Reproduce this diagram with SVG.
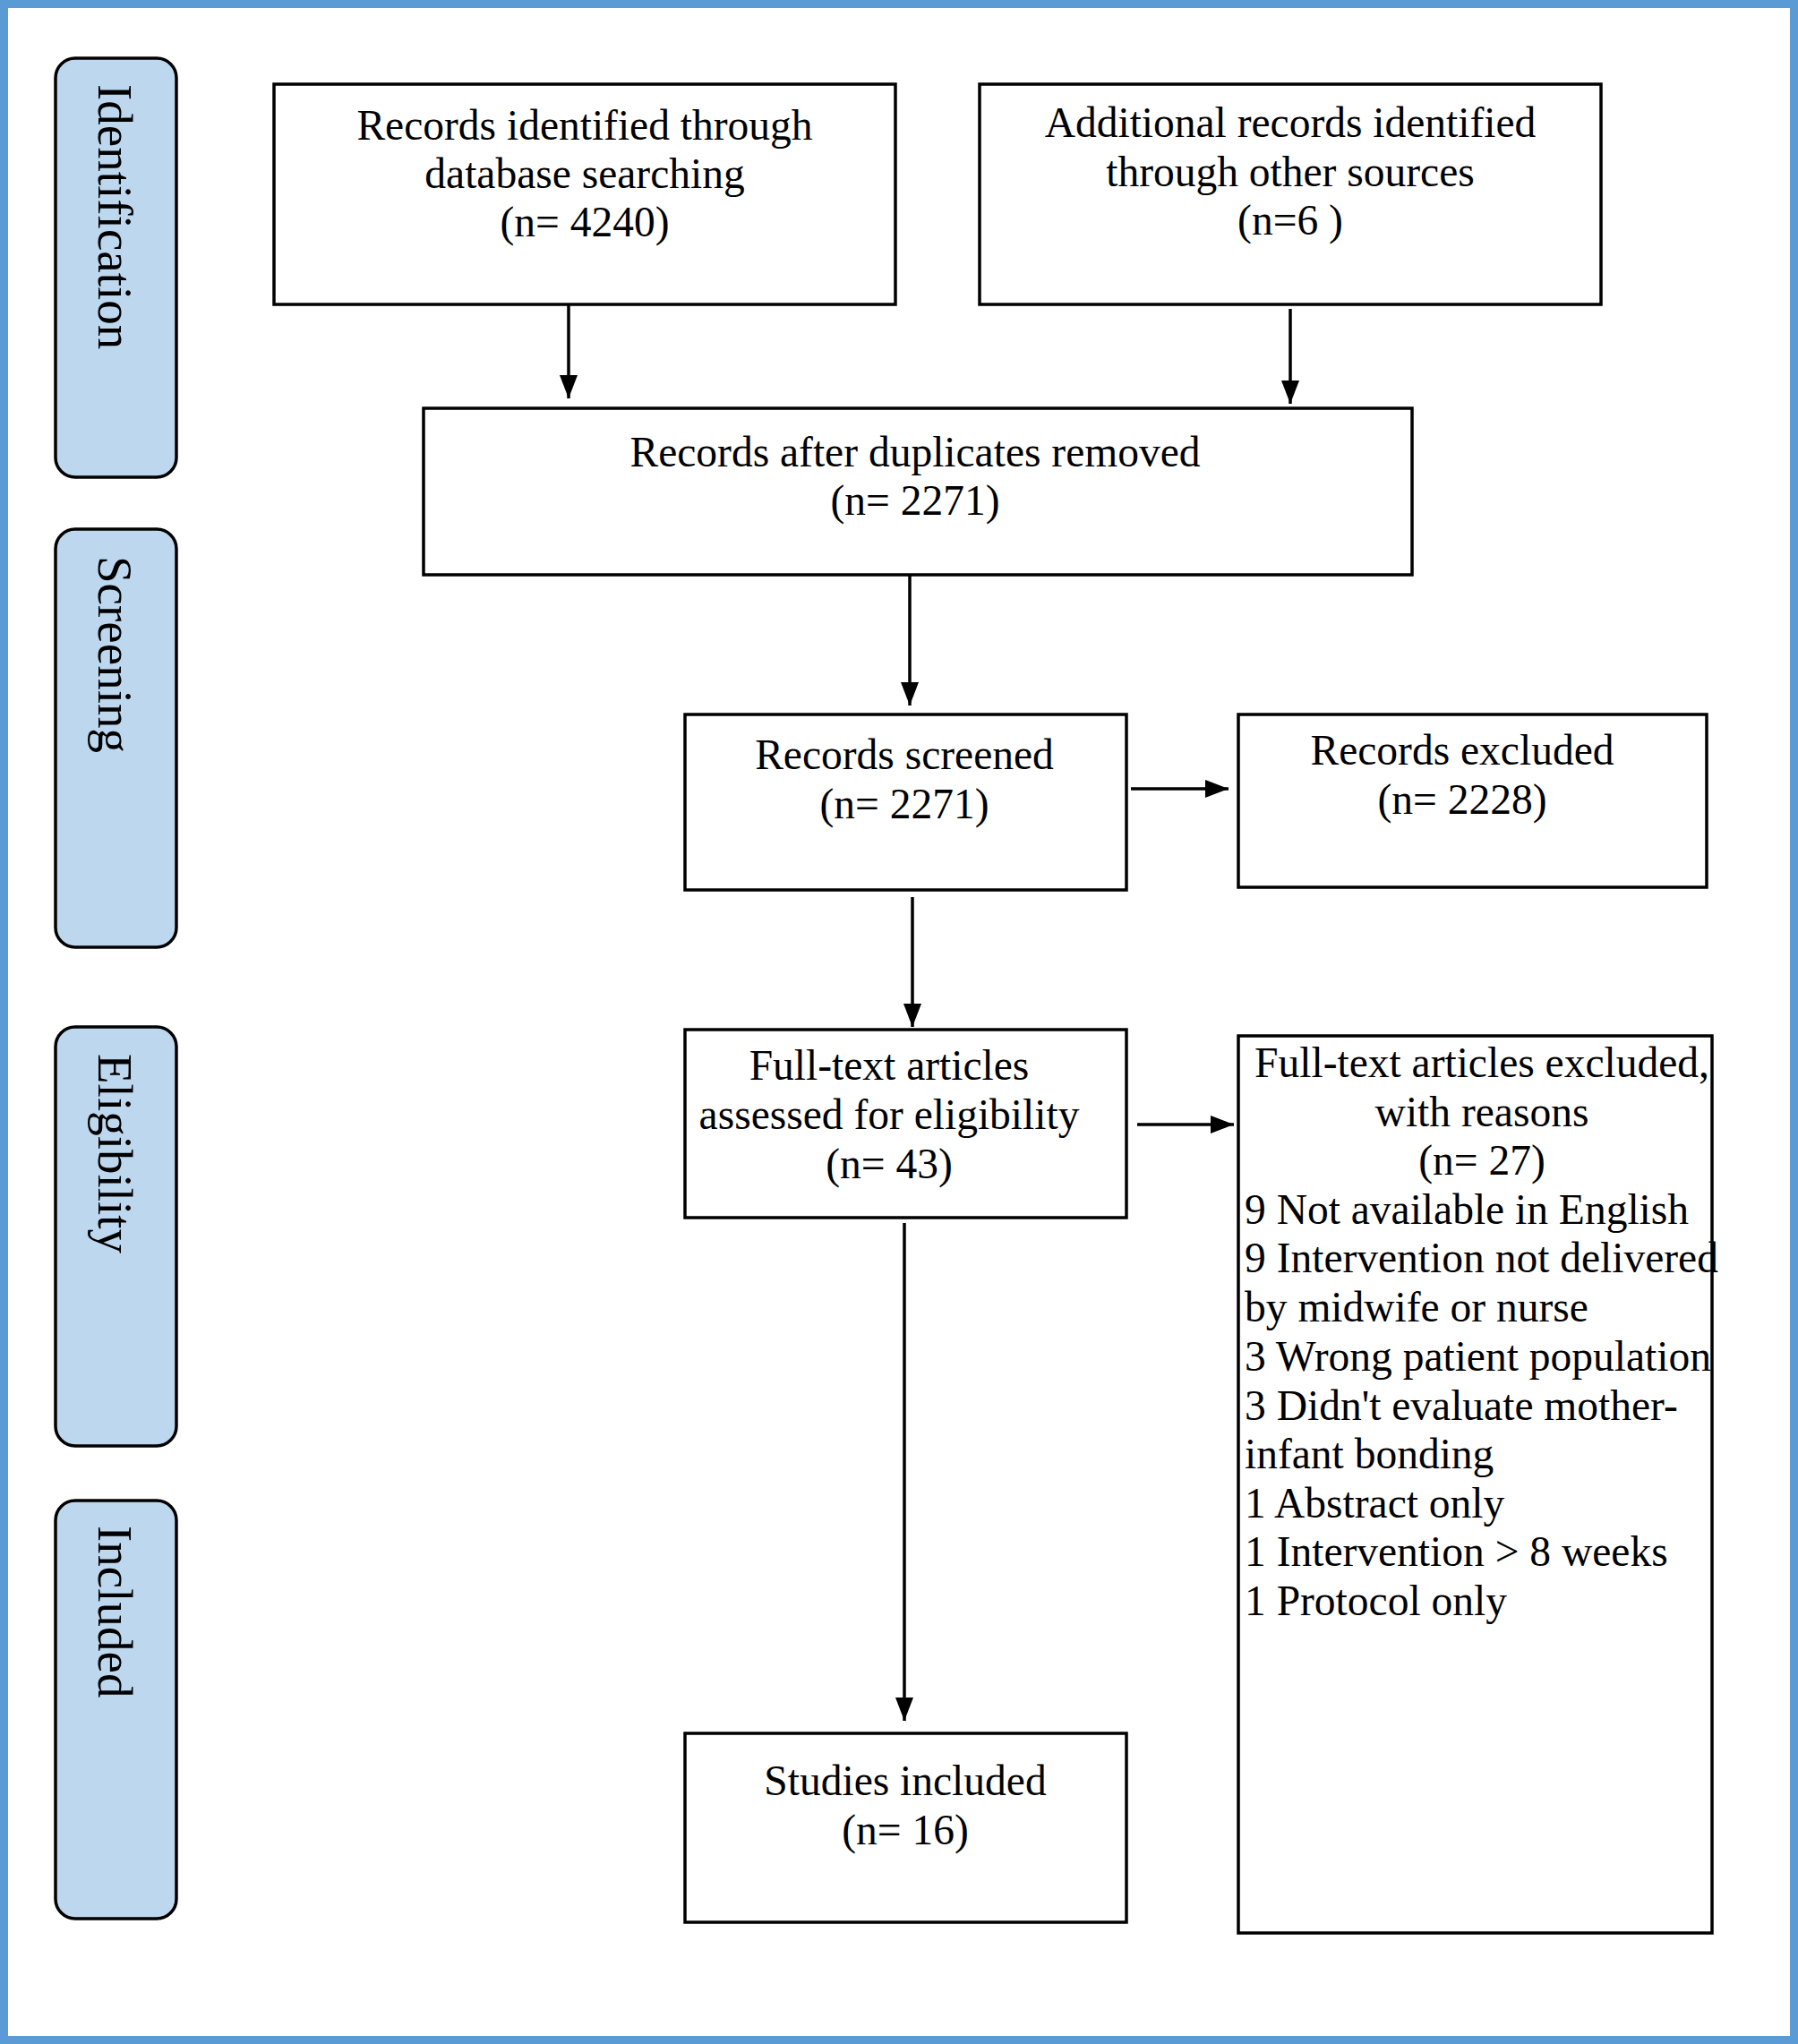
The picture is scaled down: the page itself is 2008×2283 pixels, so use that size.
<svg xmlns="http://www.w3.org/2000/svg" width="2008" height="2283" viewBox="0 0 2008 2283">
  <defs>
    <style>
      .box { fill: #ffffff; stroke: #000000; stroke-width: 3.5; }
      .side { fill: #bdd7ee; stroke: #000000; stroke-width: 3.5; }
      .t { font-family: "Liberation Serif", "Times New Roman", serif; font-size: 47.5px; fill: #000000; }
      .c { text-anchor: middle; }
      .s { font-family: "Liberation Serif", "Times New Roman", serif; font-size: 55px; fill: #000000; }
      .conn { stroke: #000000; stroke-width: 3.5; fill: none; marker-end: url(#arrow); }
    </style>
    <marker id="arrow" markerUnits="userSpaceOnUse" markerWidth="26" markerHeight="20" refX="26" refY="10" orient="auto">
      <path d="M0,0 L26,10 L0,20 Z" fill="#000000"/>
    </marker>
  </defs>

  <rect x="0" y="0" width="2008" height="2283" fill="#ffffff"/>
  <rect id="frame" x="4.5" y="4.5" width="1999" height="2274" fill="none" stroke="#5b9bd5" stroke-width="9"/>

  <g id="stage-identification">
    <rect class="side" x="62" y="65" width="135" height="468" rx="22" ry="22"/>
    <text class="s" transform="translate(110,94) rotate(90)">Identification</text>
  </g>
  <g id="stage-screening">
    <rect class="side" x="62" y="591" width="135" height="467" rx="22" ry="22"/>
    <text class="s" transform="translate(110,621) rotate(90)">Screening</text>
  </g>
  <g id="stage-eligibility">
    <rect class="side" x="62" y="1147" width="135" height="468" rx="22" ry="22"/>
    <text class="s" transform="translate(110,1177) rotate(90)">Eligibility</text>
  </g>
  <g id="stage-included">
    <rect class="side" x="62" y="1676" width="135" height="467" rx="22" ry="22"/>
    <text class="s" transform="translate(110,1704) rotate(90)">Included</text>
  </g>

  <g id="connectors">
    <line class="conn" x1="635" y1="341" x2="635" y2="445"/>
    <line class="conn" x1="1441" y1="345" x2="1441" y2="451"/>
    <line class="conn" x1="1016" y1="642" x2="1016" y2="788"/>
    <line class="conn" x1="1263" y1="881" x2="1372" y2="881"/>
    <line class="conn" x1="1019" y1="1002" x2="1019" y2="1147"/>
    <line class="conn" x1="1270" y1="1256" x2="1378" y2="1256"/>
    <line class="conn" x1="1010" y1="1366" x2="1010" y2="1922"/>
  </g>

  <g id="records-database">
    <rect class="box" x="306" y="94" width="694" height="246"/>
    <text class="t c" x="653" y="156">Records identified through</text>
    <text class="t c" x="653" y="210">database searching</text>
    <text class="t c" x="653" y="264">(n= 4240)</text>
  </g>

  <g id="records-other">
    <rect class="box" x="1094" y="94" width="694" height="246"/>
    <text class="t c" x="1441" y="153">Additional records identified</text>
    <text class="t c" x="1441" y="208">through other sources</text>
    <text class="t c" x="1441" y="262">(n=6 )</text>
  </g>

  <g id="records-deduplicated">
    <rect class="box" x="473" y="456" width="1104" height="186"/>
    <text class="t c" x="1022" y="521">Records after duplicates removed</text>
    <text class="t c" x="1022" y="575">(n= 2271)</text>
  </g>

  <g id="records-screened">
    <rect class="box" x="765" y="798" width="493" height="196"/>
    <text class="t c" x="1010" y="859">Records screened</text>
    <text class="t c" x="1010" y="914">(n= 2271)</text>
  </g>

  <g id="records-excluded">
    <rect class="box" x="1383" y="798" width="523" height="193"/>
    <text class="t c" x="1633" y="854">Records excluded</text>
    <text class="t c" x="1633" y="909">(n= 2228)</text>
  </g>

  <g id="fulltext-assessed">
    <rect class="box" x="765" y="1150" width="493" height="210"/>
    <text class="t c" x="993" y="1206">Full-text articles</text>
    <text class="t c" x="993" y="1261">assessed for eligibility</text>
    <text class="t c" x="993" y="1316">(n= 43)</text>
  </g>

  <g id="fulltext-excluded">
    <rect class="box" x="1383" y="1157" width="529" height="1002"/>
    <text class="t c" x="1655" y="1203">Full-text articles excluded,</text>
    <text class="t c" x="1655" y="1258">with reasons</text>
    <text class="t c" x="1655" y="1312">(n= 27)</text>
    <text class="t" x="1390" y="1367">9 Not available in English</text>
    <text class="t" x="1390" y="1421">9 Intervention not delivered</text>
    <text class="t" x="1390" y="1476">by midwife or nurse</text>
    <text class="t" x="1390" y="1531">3 Wrong patient population</text>
    <text class="t" x="1390" y="1586">3 Didn't evaluate mother-</text>
    <text class="t" x="1390" y="1640">infant bonding</text>
    <text class="t" x="1390" y="1695">1 Abstract only</text>
    <text class="t" x="1390" y="1749">1 Intervention &gt; 8 weeks</text>
    <text class="t" x="1390" y="1804">1 Protocol only</text>
  </g>

  <g id="studies-included">
    <rect class="box" x="765" y="1936" width="493" height="211"/>
    <text class="t c" x="1011" y="2005">Studies included</text>
    <text class="t c" x="1011" y="2060">(n= 16)</text>
  </g>
</svg>
